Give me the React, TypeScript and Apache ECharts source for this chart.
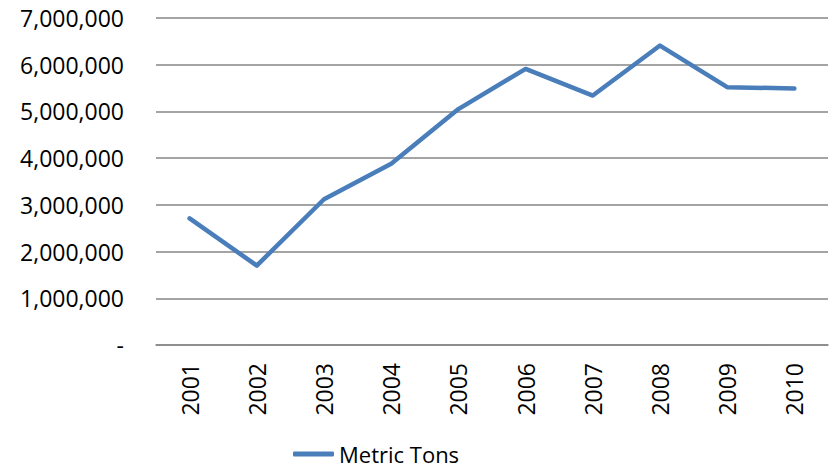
import React, { useEffect, useRef } from "react";
import * as echarts from "echarts";

const categories = ["2001", "2002", "2003", "2004", "2005", "2006", "2007", "2008", "2009", "2010"];
const metricTons = [2710000, 1700000, 3120000, 3880000, 5050000, 5910000, 5340000, 6410000, 5520000, 5490000];
const seriesName = "Metric Tons";

export default function App() {
  const ref = useRef<HTMLDivElement>(null);
  useEffect(() => {
    if (!ref.current) return;
    const chart = echarts.init(ref.current, undefined, { renderer: "svg" });
    const font = "'Open Sans', Calibri, sans-serif";
    chart.setOption({
      animation: false,
      textStyle: { fontFamily: font },
      grid: { left: 156, right: 5, top: 18, bottom: 126, containLabel: false },
      legend: {
        show: true,
        left: 293,
        top: 442,
        padding: 0,
        itemWidth: 41,
        itemHeight: 5,
        itemGap: 10,
        textStyle: { fontFamily: font, fontSize: 22, lineHeight: 24, color: "#000" },
        data: [{ name: seriesName, icon: "roundRect" }],
      },
      xAxis: {
        type: "category",
        data: categories,
        boundaryGap: true,
        axisLine: { show: true, lineStyle: { color: "#868686", width: 1.5 } },
        axisTick: { show: false },
        axisLabel: {
          rotate: 90,
          fontSize: 23,
          color: "#000",
          fontFamily: font,
          margin: 18,
          interval: 0,
        },
      },
      yAxis: {
        type: "value",
        min: 0,
        max: 7000000,
        interval: 1000000,
        axisLine: { show: false },
        axisTick: { show: false },
        splitLine: { show: true, lineStyle: { color: "#868686", width: 1.5 } },
        axisLabel: {
          fontSize: 23,
          color: "#000",
          fontFamily: font,
          margin: 32,
          formatter: (v: number) => (v === 0 ? "-" : v.toLocaleString("en-US")),
        },
      },
      series: [
        {
          name: seriesName,
          type: "line",
          data: metricTons,
          symbol: "none",
          lineStyle: { color: "#4A7EBB", width: 4.5, cap: "round", join: "round" },
          itemStyle: { color: "#4A7EBB" },
        },
      ],
    });
    return () => chart.dispose();
  }, []);
  return (
    <div
      ref={ref}
      style={{ position: "absolute", left: 0, top: 0, width: 833, height: 471, background: "#fff" }}
    />
  );
}
